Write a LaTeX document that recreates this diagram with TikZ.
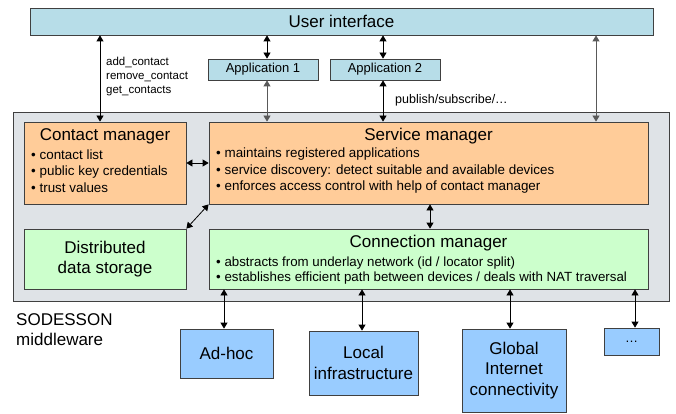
\documentclass[tikz,border=0pt]{standalone}
\usepackage{fontspec}
\setmainfont{Liberation Sans}
\usetikzlibrary{arrows.meta}
\definecolor{uiblue}{HTML}{B7DDE8}
\definecolor{mgrorange}{HTML}{FFCC99}
\definecolor{mgrgreen}{HTML}{CCFFCC}
\definecolor{netblue}{HTML}{99CCFF}
\definecolor{mwgray}{HTML}{DFE3E7}
\newcommand\ftitle{\fontsize{17}{20.5}\selectfont}
\newcommand\fbul{\fontsize{13.4}{16.5}\selectfont}
\newcommand\fbulsmall{\fontsize{13.3}{15}\selectfont}
\newcommand\fapp{\fontsize{13}{15}\selectfont}
\newcommand\flab{\fontsize{11.5}{14}\selectfont}
\newcommand\flabb{\fontsize{12.5}{14}\selectfont}
\begin{document}
\begin{tikzpicture}[x=1pt,y=-1pt,
  box/.style={draw=black!75, line width=0.8pt, inner sep=0pt, align=center},
  txt/.style={inner sep=0pt, align=left},
  conn/.style={{Triangle[length=6pt,width=7pt]}-{Triangle[length=6pt,width=7pt]}, line width=0.8pt, draw=black},
  gconn/.style={conn, draw=black!65}]
\useasboundingbox (0,0) rectangle (676,414);

% middleware container
\node[box, fill=mwgray, minimum width=656pt, minimum height=189pt] (mw) at (341,206.5) {};

% top
\node[box, fill=uiblue, minimum width=623pt, minimum height=27pt, font=\ftitle] (ui) at (341.5,21.5) {User interface};
\node[box, fill=uiblue, minimum width=110pt, minimum height=21pt, font=\fapp] (app1) at (263,69.5) {Application 1};
\node[box, fill=uiblue, minimum width=110pt, minimum height=21pt, font=\fapp] (app2) at (385,69.5) {Application 2};

% managers
\node[box, fill=mgrorange, minimum width=162pt, minimum height=82pt] (cm) at (105,163) {};
\node[txt, font=\ftitle] (cmt) at (105,136) {Contact manager};
\node[txt, font=\fbul, anchor=west] (cmb) at (31,171) {• contact list\\• public key credentials\\• trust values};

\node[box, fill=mgrorange, minimum width=439pt, minimum height=82pt] (sm) at (428.5,163) {};
\node[txt, font=\ftitle] (smt) at (428.5,136) {Service manager};
\node[txt, font=\fbul, anchor=west] (smb) at (216,171) {• maintains registered applications\\• service discovery: detect suitable and available devices\\• enforces access control with help of contact manager};

\node[box, fill=mgrgreen, minimum width=162pt, minimum height=60pt, font=\ftitle] (dds) at (105,259) {Distributed\\data storage};

\node[box, fill=mgrgreen, minimum width=439pt, minimum height=60pt] (cnm) at (428.5,259) {};
\node[txt, font=\ftitle] (cnmt) at (428.5,243) {Connection manager};
\node[txt, font=\fbulsmall, anchor=west] (cnmb) at (216,270.5) {• abstracts from underlay network (id / locator split)\\• establishes efficient path between devices / deals with NAT traversal};

% networks
\node[box, fill=netblue, minimum width=93pt, minimum height=49pt, font=\ftitle] (adhoc) at (226.5,353.5) {Ad-hoc};
\node[box, fill=netblue, minimum width=109pt, minimum height=64pt, font=\ftitle] (local) at (363.5,363) {Local\\infrastructure};
\node[box, fill=netblue, minimum width=104pt, minimum height=83pt, font=\ftitle] (global) at (514,370.5) {Global\\Internet\\connectivity};
\node[box, fill=netblue, minimum width=55pt, minimum height=27pt, font=\fapp] (dots) at (631.5,341.5) {…};

\node[txt, font=\ftitle, anchor=north west] (sod) at (16,313) {SODESSON\\middleware};

% labels
\node[txt, font=\flab, anchor=west] (lab1) at (106,77) {add\_contact\\remove\_contact\\get\_contacts};
\node[txt, font=\flabb, anchor=west] (lab2) at (395,100) {publish/subscribe/…};

% x positions
\coordinate (xa) at (100,0);
\coordinate (xb) at (267,0);
\coordinate (xc) at (383,0);
\coordinate (xd) at (596,0);
\coordinate (xe) at (430,0);
\coordinate (xf) at (224,0);
\coordinate (xg) at (362,0);
\coordinate (xh) at (510,0);
\coordinate (xi) at (635,0);

% connectors
\draw[conn] (ui.south -| xa) -- (cm.north -| xa);
\draw[conn] (ui.south -| xb) -- (app1.north -| xb);
\draw[gconn] (app1.south -| xb) -- (sm.north -| xb);
\draw[conn] (ui.south -| xc) -- (app2.north -| xc);
\draw[conn] (app2.south -| xc) -- (sm.north -| xc);
\draw[gconn] (ui.south -| xd) -- (sm.north -| xd);
\draw[conn] (cm.east) -- (sm.west |- cm.east);
\draw[conn] (sm.south west) -- (dds.north east);
\draw[conn] (sm.south -| xe) -- (cnm.north -| xe);
\draw[conn] (cnm.south -| xf) -- (adhoc.north -| xf);
\draw[conn] (cnm.south -| xg) -- (local.north -| xg);
\draw[conn] (cnm.south -| xh) -- (global.north -| xh);
\draw[conn] (cnm.south -| xi) -- (dots.north -| xi);
\end{tikzpicture}
\end{document}
